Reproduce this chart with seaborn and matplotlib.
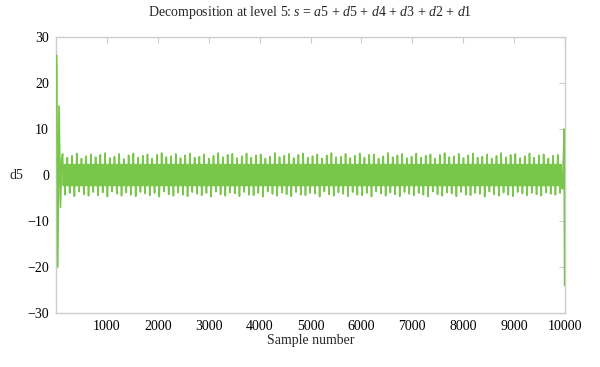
import numpy as np
import pandas as pd
import matplotlib
matplotlib.use("Agg")
import matplotlib.pyplot as plt
import seaborn as sns

# edge transients (sample number, value)
left_samples = [15, 35, 60, 88, 112]
left_values = [26.0, -20.0, 15.0, -7.0, 3.5]
right_samples = [9950, 9970, 9982, 9992]
right_values = [-3.0, 4.0, 10.0, -24.0]

# steady part: one tall upward and one deep downward spike per cycle
cycle_start, cycle_end = 130, 9935
spike_hi = [
    4.6, 3.8, 4.2, 4.7, 3.6, 4.1, 4.5, 3.9, 4.4, 4.8,
    3.7, 4.0, 4.6, 3.5, 4.3, 4.7, 3.8, 4.2, 4.5, 3.6,
    4.4, 4.8, 3.9, 4.1, 4.6, 3.7, 4.3, 4.7, 3.8, 4.0,
    4.5, 3.6, 4.2, 4.8, 3.9, 4.4, 4.6, 3.7, 4.1, 4.7,
    3.8, 4.3, 4.5, 3.6, 4.0, 4.8, 3.9, 4.2, 4.6, 3.7,
    4.4, 4.7, 3.8, 4.1, 4.5, 3.6, 4.3, 4.8, 3.9, 4.0,
    4.6, 3.7, 4.2, 4.7, 3.8, 4.4, 4.5, 3.6, 4.1, 4.8,
    3.9, 4.3, 4.6, 3.7, 4.0, 4.7, 3.8, 4.2, 4.5, 3.6,
    4.4, 4.8, 3.9, 4.1, 4.6, 3.7, 4.3, 4.7, 3.8, 4.0,
    4.5, 3.6, 4.2, 4.8, 3.9, 4.4, 4.6, 3.7, 4.1, 4.7,
    3.8, 4.3, 4.5, 3.6, 4.2, 4.4,
]
spike_lo = [
    -4.3, -3.9, -4.6, -3.6, -4.2, -4.5, -3.7, -4.4, -3.8, -4.7,
    -3.6, -4.1, -4.5, -3.8, -4.3, -4.6, -3.7, -4.0, -4.4, -3.9,
    -4.7, -3.6, -4.2, -4.5, -3.8, -4.3, -4.6, -3.7, -4.1, -4.4,
    -3.9, -4.7, -3.6, -4.2, -4.5, -3.8, -4.0, -4.6, -3.7, -4.3,
    -4.4, -3.9, -4.7, -3.6, -4.1, -4.5, -3.8, -4.2, -4.6, -3.7,
    -4.3, -4.4, -3.9, -4.0, -4.7, -3.6, -4.2, -4.5, -3.8, -4.1,
    -4.6, -3.7, -4.3, -4.4, -3.9, -4.7, -3.6, -4.0, -4.5, -3.8,
    -4.2, -4.6, -3.7, -4.1, -4.4, -3.9, -4.3, -4.7, -3.6, -4.2,
    -4.5, -3.8, -4.0, -4.6, -3.7, -4.3, -4.4, -3.9, -4.1, -4.7,
    -3.6, -4.2, -4.5, -3.8, -4.3, -4.6, -3.7, -4.0, -4.4, -3.9,
    -4.2, -4.5, -3.8, -4.1, -4.3, -3.9,
]
band = 2.3  # half-width of the dense inner oscillation

# interleave: hi, -band, +band, lo, +band, -band per cycle
vals = []
for hi, lo in zip(spike_hi, spike_lo):
    vals += [hi, -band, band, lo, band, -band]
mid_samples = np.linspace(cycle_start, cycle_end, len(vals))

samples = np.concatenate([left_samples, mid_samples, right_samples])
values = np.concatenate([left_values, vals, right_values])
df = pd.DataFrame({"sample": samples, "d5": values})

sns.set_theme(style="white")
plt.rcParams["font.family"] = ["Liberation Serif", "DejaVu Serif"]
plt.rcParams["mathtext.fontset"] = "custom"
plt.rcParams["mathtext.rm"] = "Liberation Serif"
plt.rcParams["mathtext.it"] = "Liberation Serif:italic"

fig = plt.figure(figsize=(6, 3.67), dpi=100)
ax = fig.add_axes([0.0933, 0.147, 0.8484, 0.752])

sns.lineplot(data=df, x="sample", y="d5", ax=ax, color="#78c64a",
             linewidth=1.2, estimator=None, sort=False, zorder=3)

ax.set_xlim(0, 10000)
ax.set_ylim(-30, 30)
ax.set_xticks(range(1000, 10001, 1000))
ax.set_yticks(range(-30, 31, 10))
ax.set_yticklabels(["\u221230", "\u221220", "\u221210", "0", "10", "20", "30"])

for s in ax.spines.values():
    s.set_visible(True)
    s.set_color("#cccccc")
    s.set_linewidth(1.0)
ax.tick_params(direction="in", length=4, width=0.8, color="#cccccc",
               top=True, right=True, labelsize=10, labelcolor="black", pad=5)

ax.set_title("Decomposition at level 5: $s$ = $a5$ + $d5$ + $d4$ + $d3$ + $d2$ + $d1$",
             fontsize=10, pad=15)
ax.set_xlabel("Sample number", fontsize=10, labelpad=1)
ax.set_ylabel("d5", fontsize=10, rotation=0, labelpad=8, va="center")

fig.savefig("out.png", dpi=100)
